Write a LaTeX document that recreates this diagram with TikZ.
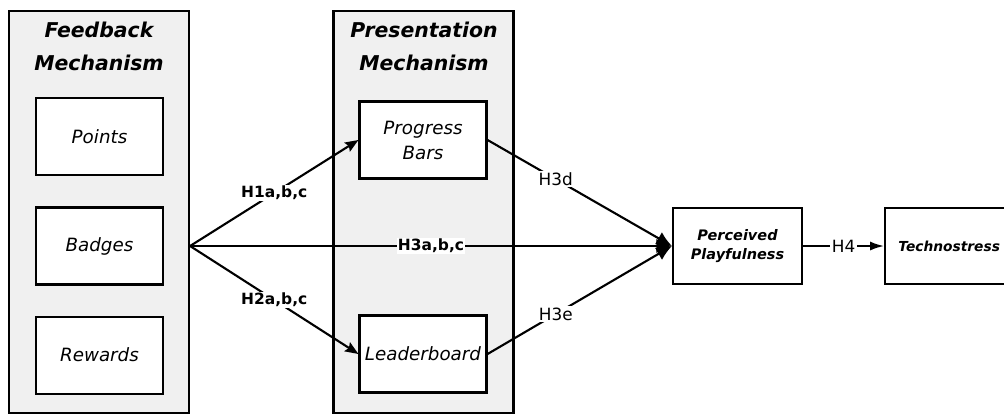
\documentclass[tikz,border=0pt]{standalone}
\usepackage{fontspec}
\setmainfont{DejaVu Sans}
\usetikzlibrary{positioning}
\usetikzlibrary{arrows.meta}

\tikzset{
  panel/.style={draw, fill=gray!12, minimum width=4.5cm, minimum height=10.05cm, inner sep=0pt},
  paneltitle/.style={align=center, font=\fontsize{14.5}{23.5}\selectfont\bfseries\itshape},
  box/.style={draw, fill=white, align=center, minimum width=3.175cm, minimum height=1.925cm,
    font=\fontsize{13}{17.8}\selectfont\itshape},
  outbox/.style={draw, fill=white, align=center, minimum width=3.225cm, minimum height=1.9cm,
    font=\fontsize{10.3}{13.5}\selectfont\bfseries\itshape},
  hlbl/.style={fill=white, inner sep=1pt, font=\fontsize{11}{13}\selectfont\bfseries},
  lbl/.style={fill=white, inner sep=1pt, font=\fontsize{12}{14}\selectfont}
}

\begin{document}
\begin{tikzpicture}[x=0.025cm,y=-0.025cm,node distance=0.75cm,line width=1.5pt,
  >={Stealth[length=9.5pt,width=7.5pt,inset=1.5pt]}]
\useasboundingbox (0,0) rectangle (1004,416);

\node[panel] (fbpanel) at (99,212) {};
\node[panel] (prpanel) at (423.5,212) {};
\node[paneltitle] (fbtitle) at (99,46) {Feedback\\Mechanism};
\node[paneltitle] (prtitle) at (424,46) {Presentation\\Mechanism};

\node[box] (badges) at (99.5,246) {Badges};
\node[box, above=of badges] (points) {Points};
\node[box, below=of badges] (rewards) {Rewards};

\node[box] (progress) at (423,140) {Progress\\Bars};
\node[box] (leader) at (423,354) {Leaderboard};

\node[outbox] (playful) at (737.5,246) {Perceived\\Playfulness};
\node[outbox, font=\fontsize{9.8}{13.5}\selectfont\bfseries\itshape, minimum width=3.2cm,
  right=2.025cm of playful] (techno) {Technostress};

\coordinate (fan) at (fbpanel.east |- badges.east);

\path[->]
  (fan) edge node[hlbl]{H1a,b,c} (progress.west)
  (fan) edge node[hlbl]{H2a,b,c} (leader.west);
\path[-{Latex[length=11pt,width=10pt]}]
  (fan) edge node[hlbl]{H3a,b,c} (playful.west)
  (progress.east) edge node[pos=0.37,lbl]{H3d} (playful.west)
  (leader.east) edge node[pos=0.37,lbl]{H3e} (playful.west);
\draw[-{Latex[length=10pt,width=6.5pt]}] (playful) -- node[lbl]{H4} (techno);
\end{tikzpicture}
\end{document}
